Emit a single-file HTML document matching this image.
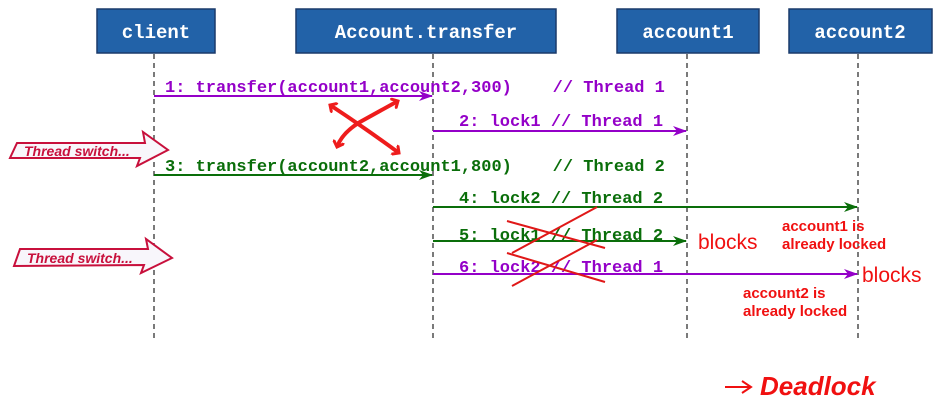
<!DOCTYPE html>
<html><head><meta charset="utf-8"><style>
html,body{margin:0;padding:0;background:#fff;}
svg{display:block;}
.m{font-family:"Liberation Mono",monospace;font-weight:bold;font-size:17px;}
.h{font-family:"Liberation Mono",monospace;font-weight:bold;font-size:19px;fill:#fff;}
.r{font-family:"Liberation Sans",sans-serif;fill:#f01010;}
</style></head><body>
<svg width="944" height="406" viewBox="0 0 944 406" xmlns="http://www.w3.org/2000/svg">
<defs>
<marker id="ap" markerWidth="14" markerHeight="10" refX="13" refY="5" orient="auto" markerUnits="userSpaceOnUse"><path d="M0,0 L14,5 L0,10 L4,5 Z" fill="#9400c8"/></marker>
<marker id="ag" markerWidth="14" markerHeight="10" refX="13" refY="5" orient="auto" markerUnits="userSpaceOnUse"><path d="M0,0 L14,5 L0,10 L4,5 Z" fill="#0a6e0a"/></marker>
<marker id="ar" markerWidth="12" markerHeight="12" refX="6" refY="6" orient="auto" markerUnits="userSpaceOnUse"><path d="M0,0 L6,6 L0,12" fill="none" stroke="#ee1c1c" stroke-width="3"/></marker>
<marker id="ars" markerWidth="12" markerHeight="12" refX="6" refY="6" orient="auto-start-reverse" markerUnits="userSpaceOnUse"><path d="M0,0 L6,6 L0,12" fill="none" stroke="#ee1c1c" stroke-width="3"/></marker>
</defs>
<g stroke="#1a3a6a" stroke-width="1.5" fill="#2262a8">
<rect x="97" y="9" width="118" height="44"/>
<rect x="296" y="9" width="260" height="44"/>
<rect x="617" y="9" width="142" height="44"/>
<rect x="789" y="9" width="143" height="44"/>
</g>
<text class="h" x="156" y="38" text-anchor="middle">client</text>
<text class="h" x="426" y="38" text-anchor="middle">Account.transfer</text>
<text class="h" x="688" y="38" text-anchor="middle">account1</text>
<text class="h" x="860" y="38" text-anchor="middle">account2</text>
<g stroke="#333" stroke-width="1.3" stroke-dasharray="5,4">
<line x1="154" y1="54" x2="154" y2="342"/>
<line x1="433" y1="54" x2="433" y2="342"/>
<line x1="687" y1="54" x2="687" y2="342"/>
<line x1="858" y1="54" x2="858" y2="342"/>
</g>
<g stroke-width="2">
<line x1="154" y1="96" x2="432" y2="96" stroke="#9400c8" marker-end="url(#ap)"/>
<line x1="433" y1="131" x2="686" y2="131" stroke="#9400c8" marker-end="url(#ap)"/>
<line x1="154" y1="175" x2="432" y2="175" stroke="#0a6e0a" marker-end="url(#ag)"/>
<line x1="433" y1="207" x2="857" y2="207" stroke="#0a6e0a" marker-end="url(#ag)"/>
<line x1="433" y1="241" x2="686" y2="241" stroke="#0a6e0a" marker-end="url(#ag)"/>
<line x1="433" y1="274" x2="857" y2="274" stroke="#9400c8" marker-end="url(#ap)"/>
</g>
<text class="m" x="165" y="92" fill="#9400c8" xml:space="preserve">1: transfer(account1,account2,300)    // Thread 1</text>
<text class="m" x="459" y="126" fill="#9400c8">2: lock1 // Thread 1</text>
<text class="m" x="165" y="171" fill="#0a6e0a" xml:space="preserve">3: transfer(account2,account1,800)    // Thread 2</text>
<text class="m" x="459" y="203" fill="#0a6e0a">4: lock2 // Thread 2</text>
<text class="m" x="459" y="240" fill="#0a6e0a">5: lock1 // Thread 2</text>
<text class="m" x="459" y="272" fill="#9400c8">6: lock2 // Thread 1</text>
<g stroke="#e01818" stroke-width="2">
<line x1="507" y1="221" x2="605" y2="248"/>
<line x1="512" y1="253" x2="597" y2="207"/>
<line x1="507" y1="253" x2="605" y2="282"/>
<line x1="512" y1="286" x2="597" y2="240"/>
</g>
<g stroke="#ee1c1c" stroke-width="4" fill="none">
<path d="M330,105 Q365,128 399,153" marker-start="url(#ars)" marker-end="url(#ar)"/>
<path d="M398,101 L360,122 Q342,133 337,147" marker-start="url(#ars)" marker-end="url(#ar)"/>
</g>
<g stroke="#c8103c" stroke-width="2" fill="#f8f6fb">
<path d="M17,143 L145,143 L143,132 L168,150 L137,166 L140,158 L10,158 Z"/>
<path d="M20,249 L148,249 L146,239 L172,258 L141,273 L144,265 L14,266 Z"/>
</g>
<g font-family="Liberation Sans, sans-serif" font-weight="bold" font-style="italic" font-size="14" fill="#c8103c">
<text x="24" y="156">Thread switch...</text>
<text x="27" y="263">Thread switch...</text>
</g>
<text class="r" x="698" y="249" font-size="21">blocks</text>
<text class="r" x="862" y="282" font-size="21">blocks</text>
<text class="r" x="782" y="231" font-weight="bold" font-size="15">account1 is</text>
<text class="r" x="782" y="249" font-weight="bold" font-size="15">already locked</text>
<text class="r" x="743" y="298" font-weight="bold" font-size="15">account2 is</text>
<text class="r" x="743" y="316" font-weight="bold" font-size="15">already locked</text>
<line x1="725" y1="387" x2="750" y2="387" stroke="#f01010" stroke-width="2"/>
<path d="M742,381 L751,387 L742,393" fill="none" stroke="#f01010" stroke-width="2"/>
<text class="r" x="760" y="395" font-size="26" font-weight="bold" font-style="italic">Deadlock</text>
</svg>
</body></html>
